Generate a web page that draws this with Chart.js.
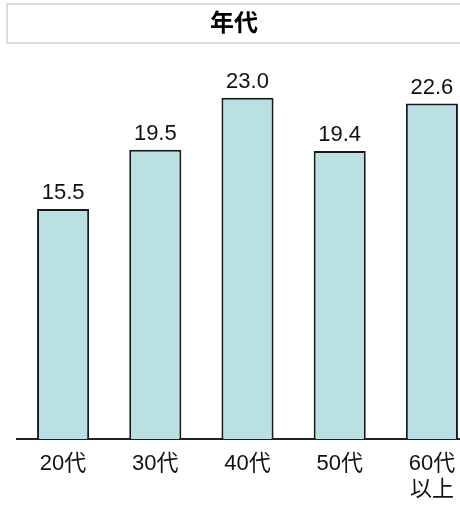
<!DOCTYPE html>
<html>
<head>
<meta charset="utf-8">
<script src="https://cdn.jsdelivr.net/npm/chart.js@4/dist/chart.umd.min.js"></script>
<style>
  html, body { margin: 0; padding: 0; background: #ffffff; overflow: hidden; }
  #wrap { position: relative; width: 460px; height: 505px; overflow: hidden; }
  canvas { display: block; }
</style>
</head>
<body>
<div id="wrap"><canvas id="chart" width="490" height="517"></canvas></div>
<script>
// Age groups and their values
const categories = [['20代'], ['30代'], ['40代'], ['50代'], ['60代', '以上']];
const values = [15.5, 19.5, 23.0, 19.4, 22.6];
const titleText = '年代';

const FONT = '"Liberation Sans", Arial, "Noto Sans CJK JP", sans-serif';

// Framed title: widen the title block and draw a light border around it
const titleFrame = {
  id: 'titleFrame',
  afterLayout(chart) {
    const t = chart.titleBlock;
    t.left = 6;
    t.right = 462;
    t.width = t.right - t.left;
  },
  beforeDraw(chart) {
    const t = chart.titleBlock;
    const ctx = chart.ctx;
    ctx.save();
    ctx.strokeStyle = '#dcdcdc';
    ctx.lineWidth = 2;
    ctx.strokeRect(t.left + 1, t.top + 1, 480, 39);
    ctx.restore();
  }
};

// Value labels above each bar
const valueLabels = {
  id: 'valueLabels',
  afterDatasetsDraw(chart) {
    const ctx = chart.ctx;
    const meta = chart.getDatasetMeta(0);
    ctx.save();
    ctx.font = '22px ' + FONT;
    ctx.fillStyle = '#111111';
    ctx.textAlign = 'center';
    ctx.textBaseline = 'alphabetic';
    meta.data.forEach((bar, i) => {
      ctx.fillText(values[i].toFixed(1), bar.x, bar.y - 10);
    });
    ctx.restore();
  }
};

new Chart(document.getElementById('chart'), {
  type: 'bar',
  data: {
    labels: categories,
    datasets: [{
      data: values,
      backgroundColor: '#bbe0e3',
      borderColor: '#1a1a1a',
      borderWidth: 2,
      categoryPercentage: 1.0,
      barPercentage: 0.565
    }]
  },
  options: {
    responsive: false,
    animation: false,
    devicePixelRatio: 1,
    layout: { padding: { left: 17, right: 12, top: 3, bottom: 2 } },
    plugins: {
      legend: { display: false },
      tooltip: { enabled: false },
      title: {
        display: true,
        text: titleText,
        color: '#000000',
        font: { family: FONT, size: 24, weight: 'bold', lineHeight: 1.0 },
        padding: { top: 9, bottom: 32 }
      }
    },
    scales: {
      x: {
        grid: { display: false, drawTicks: false },
        border: { display: true, color: '#222222', width: 2 },
        ticks: {
          color: '#111111',
          padding: 12,
          maxRotation: 0,
          autoSkip: false,
          font: { family: FONT, size: 22, lineHeight: 1.18 }
        }
      },
      y: {
        display: false,
        min: 0,
        max: 25
      }
    }
  },
  plugins: [titleFrame, valueLabels]
});
</script>
</body>
</html>
